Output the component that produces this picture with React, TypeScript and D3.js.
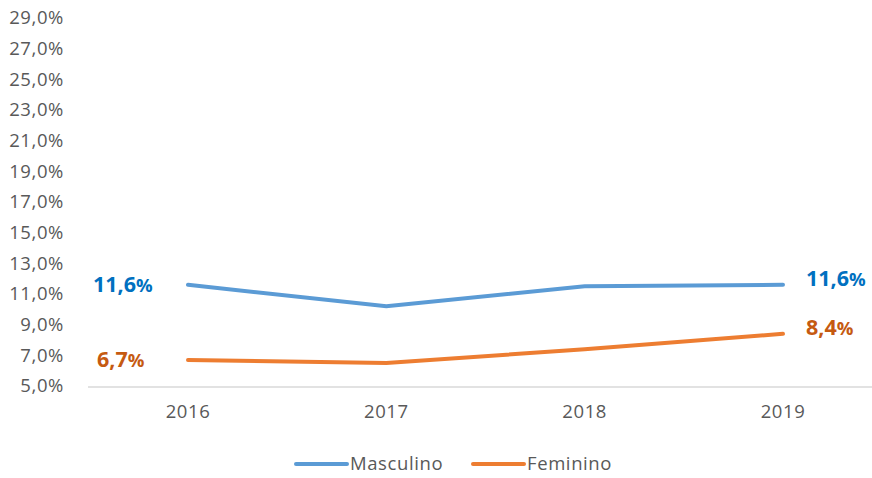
import React, { useEffect, useRef } from 'react';
import * as d3 from 'd3';

const years = ['2016', '2017', '2018', '2019'];
const masculino = [11.6, 10.2, 11.5, 11.6];
const feminino = [6.7, 6.5, 7.4, 8.4];
const yTicks = [5, 7, 9, 11, 13, 15, 17, 19, 21, 23, 25, 27, 29];

const W = 872;
const H = 478;

const App = () => {
    const svgRef = useRef<SVGSVGElement>(null);

    useEffect(() => {
        const svg = d3.select(svgRef.current);
        svg.selectAll('*').remove();

        const font = '"Open Sans", sans-serif';
        const x = d3.scalePoint<string>().domain(years).range([188, 783]);
        const y = d3.scaleLinear().domain([5, 29]).range([386, 18]);

        // axis line
        svg.append('line')
            .attr('x1', 88).attr('x2', 882)
            .attr('y1', y(5) + 1).attr('y2', y(5) + 1)
            .attr('stroke', '#d9d9d9').attr('stroke-width', 1.5);

        // y tick labels
        svg.append('g').selectAll('text')
            .data(yTicks)
            .enter()
            .append('text')
            .attr('x', 64)
            .attr('y', d => y(d))
            .attr('dy', '0.35em')
            .attr('text-anchor', 'end')
            .style('font-family', font)
            .style('font-size', '18.5px')
            .style('letter-spacing', '0.6px')
            .style('fill', '#595959')
            .text(d => d3.format('.1f')(d).replace('.', ',') + '%');

        // x tick labels
        svg.append('g').selectAll('text')
            .data(years)
            .enter()
            .append('text')
            .attr('x', d => x(d)!)
            .attr('y', 412)
            .attr('dy', '0.35em')
            .attr('text-anchor', 'middle')
            .style('font-family', font)
            .style('font-size', '18.5px')
            .style('letter-spacing', '0.6px')
            .style('fill', '#595959')
            .text(d => d);

        const line = d3.line<number>()
            .x((_, i) => x(years[i])!)
            .y(d => y(d));

        const series = [
            { name: 'Masculino', values: masculino, color: '#5b9bd5', label: '#0070c0' },
            { name: 'Feminino', values: feminino, color: '#ed7d31', label: '#c55a11' },
        ];

        series.forEach(s => {
            svg.append('path')
                .datum(s.values)
                .attr('d', line)
                .attr('fill', 'none')
                .attr('stroke', s.color)
                .attr('stroke-width', 4)
                .attr('stroke-linecap', 'round');

            const ends = [
                { v: s.values[0], xPos: x(years[0])! - 95 },
                { v: s.values[s.values.length - 1], xPos: x(years[years.length - 1])! + 23 },
            ];
            ends.forEach((e, i) => {
                const t = svg.append('text')
                    .attr('x', e.xPos + (s.name === 'Feminino' && i === 0 ? 4 : 0))
                    .attr('y', y(e.v) - (i === 1 ? 6 : 0))
                    .attr('dy', '0.35em')
                    .style('font-family', font)
                    .style('font-weight', 'bold')
                    .style('font-size', '21.5px')
                    .style('fill', s.label);
                t.append('tspan').text(d3.format('.1f')(e.v).replace('.', ','));
                t.append('tspan').style('font-size', '18.5px').text('%');
            });
        });

        // legend
        const legend = svg.append('g');
        const items = [
            { name: 'Masculino', color: '#5b9bd5', x: 296 },
            { name: 'Feminino', color: '#ed7d31', x: 473 },
        ];
        items.forEach(it => {
            legend.append('line')
                .attr('x1', it.x).attr('x2', it.x + 51)
                .attr('y1', 464).attr('y2', 464)
                .attr('stroke', it.color)
                .attr('stroke-width', 4)
                .attr('stroke-linecap', 'round');
            legend.append('text')
                .attr('x', it.x + 54)
                .attr('y', 464)
                .attr('dy', '0.35em')
                .style('font-family', font)
                .style('font-size', '18.5px')
                .style('letter-spacing', '0.6px')
                .style('fill', '#595959')
                .text(it.name);
        });
    }, []);

    return (
        <svg
            ref={svgRef}
            width={W}
            height={H}
            style={{ position: 'absolute', left: 0, top: 0, background: '#fff' }}
        />
    );
};

export default App;
